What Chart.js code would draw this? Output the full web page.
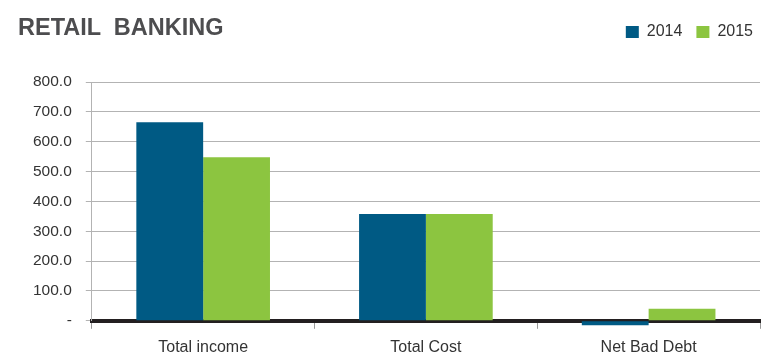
<!DOCTYPE html>
<html lang="en">
<head>
    <meta charset="UTF-8">
    <title>Retail Banking</title>
    <script src="https://cdn.jsdelivr.net/npm/chart.js"></script>
    <style>
        body { margin: 0; background: #fff; }
        .wrap { position: relative; width: 764px; height: 354px; }
        .title {
            position: absolute; left: 18px; top: 14px;
            font: bold 23.5px "Liberation Sans", Arial, sans-serif;
            color: #4d4d4f; white-space: pre; margin: 0;
        }
    </style>
</head>
<body>
    <div class="wrap">
        <h1 class="title">RETAIL  BANKING</h1>
        <canvas id="bankChart" width="764" height="354"></canvas>
    </div>
    <script>
        const categories = ['Total income', 'Total Cost', 'Net Bad Debt'];
        const values2014 = [665, 358, -15];
        const values2015 = [548, 358, 40];
        const yTicks = [0, 100, 200, 300, 400, 500, 600, 700, 800];

        const font = 'Liberation Sans, Arial, sans-serif';

        // push the plot area down below the legend row, nudge legend right
        const legendSpacer = {
            id: 'legendSpacer',
            beforeInit(chart) {
                const fit = chart.legend.fit;
                chart.legend.fit = function () {
                    fit.call(this);
                    this.height += 32;
                };
            },
            afterLayout(chart) {
                chart.legend.left += 7;
                chart.legend.right += 7;
            }
        };

        new Chart(document.getElementById('bankChart'), {
            type: 'bar',
            data: {
                labels: categories,
                datasets: [
                    { label: '2014', data: values2014, backgroundColor: '#005a84', clip: false },
                    { label: '2015', data: values2015, backgroundColor: '#8cc540', clip: false }
                ]
            },
            options: {
                responsive: false,
                animation: false,
                layout: { padding: { left: 19, right: 4, top: 10, bottom: -12 } },
                datasets: { bar: { categoryPercentage: 0.6, barPercentage: 1 } },
                plugins: {
                    legend: {
                        position: 'top',
                        align: 'end',
                        labels: {
                            boxWidth: 13,
                            boxHeight: 12,
                            padding: 14,
                            color: '#333',
                            font: { family: font, size: 16 }
                        }
                    },
                    tooltip: { enabled: false }
                },
                scales: {
                    x: {
                        z: 1,
                        grid: { drawOnChartArea: false, tickLength: 8, color: '#999' },
                        border: { color: '#231f20', width: 4 },
                        ticks: { color: '#333', padding: 9, font: { family: font, size: 16 } }
                    },
                    y: {
                        min: 0,
                        max: 800,
                        afterBuildTicks: (scale) => { scale.ticks = yTicks.map(v => ({ value: v })); },
                        grid: { color: '#b3b3b3', tickLength: 6 },
                        border: { color: '#b3b3b3' },
                        ticks: {
                            color: '#333',
                            padding: 14,
                            font: { family: font, size: 15.5 },
                            callback: (v) => v === 0 ? '-' : v.toFixed(1)
                        }
                    }
                }
            },
            plugins: [legendSpacer]
        });
    </script>
</body>
</html>
